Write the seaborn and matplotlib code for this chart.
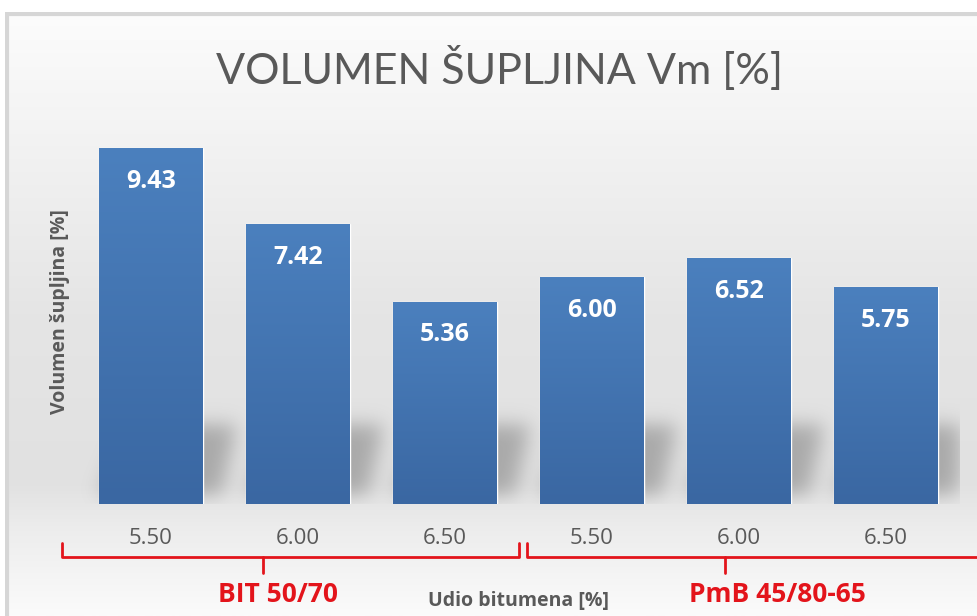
import matplotlib.pyplot as plt
import matplotlib.transforms as mtransforms
from matplotlib.colors import LinearSegmentedColormap
import seaborn as sns
import numpy as np
import pandas as pd

# data
binder_groups = ["BIT 50/70", "BIT 50/70", "BIT 50/70",
                 "PmB 45/80-65", "PmB 45/80-65", "PmB 45/80-65"]
bitumen_content = ["5.50", "6.00", "6.50", "5.50", "6.00", "6.50"]
air_voids = [9.43, 7.42, 5.36, 6.00, 6.52, 5.75]

W, H = 977, 616
GRAY = "#595959"
RED = "#e3141b"
BAR_TOP = "#4b80be"
BAR_BOT = "#3a67a2"

sns.set_style("white")
plt.rcParams["font.family"] = ["Open Sans", "DejaVu Sans"]

df = pd.DataFrame({"group": binder_groups, "content": bitumen_content, "vm": air_voids})
df["slot"] = [f"{g} | {c}" for g, c in zip(df["group"], df["content"])]

fig = plt.figure(figsize=(W / 100, H / 100), dpi=100)
fig.patch.set_facecolor("white")


def px(x, y):
    """pixel position (from top-left) -> figure fraction"""
    return x / W, 1 - y / H


# background panel with vertical gradient and light frame
bg = fig.add_axes([5 / W, 0, 1 - 5 / W, 1 - 12 / H], zorder=0)
stops = [(0.0, "#fcfcfc"), (0.2, "#f3f3f3"), (0.5, "#e5e5e5"), (0.78, "#e1e1e1"),
         (0.86, "#ededed"), (1.0, "#fbfbfb")]
bg_cmap = LinearSegmentedColormap.from_list("bg", stops)
bg.imshow(np.linspace(0, 1, 256)[:, None], aspect="auto", cmap=bg_cmap,
          extent=[0, 1, 0, 1], origin="upper")
bg.set_xlim(0, 1)
bg.set_ylim(0, 1)
bg.axis("off")
bg.plot([0.002, 0.002], [0, 0.998], color="#d6d6d6", lw=3, solid_capstyle="butt")
bg.plot([0, 1], [0.996, 0.996], color="#d6d6d6", lw=3, solid_capstyle="butt")

# main axes
ax = fig.add_axes([77.5 / W, 112 / H, 882 / W, 377.5 / H], zorder=2)
ax.patch.set_alpha(0)

bar_width = 0.707
sns.barplot(data=df, x="slot", y="vm", color=BAR_BOT, width=bar_width,
            errorbar=None, ax=ax, zorder=3)

# soft floor shadows cast behind each bar
nx, ny = 900, 400
xs = np.linspace(-0.5, 5.5, nx)
ys = np.linspace(0, 10, ny)
X, Y = np.meshgrid(xs, ys)
mask = np.zeros_like(X)
y0, y1 = 0.25, 2.1
t = np.clip((Y - y0) / (y1 - y0), 0, 1)
inside_y = (Y >= y0) & (Y <= y1)
for i in range(len(air_voids)):
    left = i - bar_width / 2 + 0.2 * t
    right = i + bar_width / 2 + 0.12 + 0.1 * t
    mask[inside_y & (X >= left) & (X <= right)] = 1.0
sigma = 10
k = np.arange(-3 * sigma, 3 * sigma + 1)
kernel = np.exp(-k ** 2 / (2 * sigma ** 2))
kernel /= kernel.sum()
mask = np.apply_along_axis(lambda r: np.convolve(r, kernel, mode="same"), 1, mask)
mask = np.apply_along_axis(lambda c: np.convolve(c, kernel, mode="same"), 0, mask)
shadow = np.zeros((ny, nx, 4))
shadow[..., :3] = 0.45
shadow[..., 3] = mask * 0.5
ax.imshow(shadow, extent=[-0.5, 5.5, 0, 10], origin="lower", aspect="auto", zorder=1)

# vertical gradient inside each bar
bar_cmap = LinearSegmentedColormap.from_list("bar", [BAR_BOT, BAR_TOP])
for patch in ax.patches:
    x0 = patch.get_x()
    h = patch.get_height()
    im = ax.imshow(np.linspace(0, 1, 128)[:, None], cmap=bar_cmap, aspect="auto",
                   extent=[x0, x0 + patch.get_width(), 0, h], origin="lower", zorder=4)
    im.set_clip_path(patch)
    ax.text(patch.get_x() + patch.get_width() / 2, h - 0.88, f"{h:.2f}",
            ha="center", va="center", color="white", fontsize=18, fontweight="bold", zorder=5)

ax.set_xlim(-0.5, 5.5)
ax.set_ylim(0, 10)
ax.set_xticks(range(len(bitumen_content)))
ax.set_xticklabels(bitumen_content, color=GRAY, fontsize=16)
ax.tick_params(axis="x", length=0, pad=17)
ax.set_yticks([])
ax.set_xlabel("")
ax.set_ylabel("")
sns.despine(ax=ax, left=True, bottom=True)

# title and axis labels
fig.text(*px(500, 68), "VOLUMEN ŠUPLJINA Vm [%]", ha="center", va="center",
         color=GRAY, fontsize=31, family=["Lato", "Open Sans", "DejaVu Sans"])
fig.text(*px(60, 312), "Volumen šupljina [%]", ha="center", va="center",
         rotation=90, color=GRAY, fontsize=14, fontweight="bold")
fig.text(*px(518, 601), "Udio bitumena [%]", ha="center", va="center",
         color=GRAY, fontsize=14, fontweight="bold")

# red curly-brace style group markers
trans = mtransforms.blended_transform_factory(ax.transData, ax.transAxes)
brace_y, end_y, tip_y = -0.140, -0.103, -0.183
for (a, b, mid) in [(-0.605, 2.503, 0.762), (2.558, 5.75, 3.905)]:
    ax.plot([a, a, b, b], [end_y, brace_y, brace_y, end_y], color=RED, lw=2,
            transform=trans, clip_on=False, solid_joinstyle="round")
    ax.plot([mid, mid], [brace_y, tip_y], color=RED, lw=2, transform=trans, clip_on=False)

ax.text(0.864, -0.241, "BIT 50/70", transform=trans, ha="center", va="center",
        color=RED, fontsize=19, fontweight="bold")
ax.text(4.26, -0.241, "PmB 45/80-65", transform=trans, ha="center", va="center",
        color=RED, fontsize=19, fontweight="bold")

fig.savefig("out.png", dpi=100, facecolor="white")
